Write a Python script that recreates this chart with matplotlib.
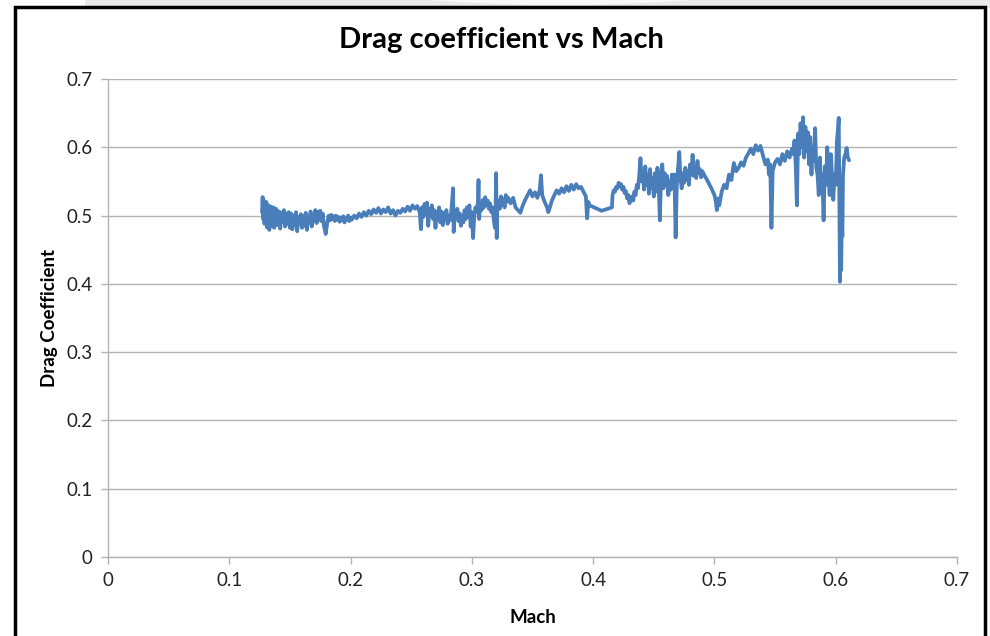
import matplotlib
matplotlib.use("Agg")
import matplotlib.pyplot as plt
from matplotlib.patches import Rectangle, Ellipse

plt.rcParams['font.family'] = ['Lato', 'DejaVu Sans']

# ---- data ----
mach_a = [0.127, 0.1275, 0.128, 0.1285, 0.129, 0.1295, 0.130, 0.1305, 0.131, 0.1315,
          0.132, 0.1325, 0.133, 0.1335, 0.134, 0.1345, 0.135, 0.1355, 0.136, 0.1365,
          0.137, 0.1375, 0.138, 0.1385, 0.139, 0.1395, 0.140, 0.141, 0.142, 0.143,
          0.144, 0.145, 0.146, 0.147, 0.148, 0.149, 0.150]
cd_a = [0.505, 0.527, 0.495, 0.522, 0.488, 0.518, 0.500, 0.520, 0.483, 0.512,
        0.492, 0.515, 0.479, 0.510, 0.495, 0.513, 0.485, 0.508, 0.490, 0.512,
        0.482, 0.505, 0.494, 0.510, 0.486, 0.507, 0.489, 0.506, 0.481, 0.504,
        0.491, 0.508, 0.484, 0.503, 0.488, 0.505, 0.482]

mach_b = [0.151, 0.152, 0.153, 0.154, 0.155, 0.156, 0.157, 0.158, 0.159, 0.160,
          0.161, 0.162, 0.163, 0.164, 0.165, 0.166, 0.167, 0.168, 0.169, 0.170,
          0.171, 0.172, 0.173, 0.174, 0.175, 0.176, 0.177]
cd_b = [0.503, 0.480, 0.500, 0.486, 0.505, 0.477, 0.498, 0.488, 0.502, 0.482,
        0.499, 0.485, 0.504, 0.479, 0.497, 0.490, 0.506, 0.484, 0.500, 0.492,
        0.508, 0.489, 0.505, 0.494, 0.507, 0.492, 0.503]

mach_c = [0.178, 0.1795, 0.181, 0.182, 0.183, 0.184, 0.185, 0.186, 0.187, 0.188,
          0.189, 0.190, 0.191, 0.192, 0.193, 0.194, 0.195, 0.196, 0.197, 0.198,
          0.199, 0.200]
cd_c = [0.485, 0.473, 0.492, 0.500, 0.493, 0.501, 0.495, 0.499, 0.492, 0.500,
        0.494, 0.498, 0.491, 0.497, 0.493, 0.499, 0.490, 0.496, 0.494, 0.500,
        0.492, 0.497]

mach_d = [0.201, 0.203, 0.205, 0.207, 0.209, 0.211, 0.213, 0.215, 0.217, 0.219,
          0.221, 0.223, 0.225, 0.227, 0.229, 0.231, 0.233, 0.235, 0.237, 0.239,
          0.241, 0.243, 0.245, 0.247, 0.249, 0.251, 0.253, 0.255, 0.257]
cd_d = [0.494, 0.500, 0.496, 0.503, 0.498, 0.505, 0.500, 0.507, 0.502, 0.509,
        0.504, 0.511, 0.503, 0.509, 0.505, 0.512, 0.503, 0.508, 0.500, 0.507,
        0.504, 0.510, 0.506, 0.513, 0.507, 0.515, 0.510, 0.514, 0.505]

mach_e = [0.258, 0.259, 0.260, 0.261, 0.262, 0.263, 0.264, 0.265, 0.266, 0.267,
          0.268, 0.269, 0.270, 0.271, 0.272, 0.273, 0.274, 0.275, 0.276, 0.277,
          0.278, 0.279, 0.280, 0.281, 0.282, 0.283]
cd_e = [0.480, 0.512, 0.498, 0.517, 0.503, 0.519, 0.485, 0.510, 0.500, 0.515,
        0.495, 0.508, 0.482, 0.505, 0.497, 0.512, 0.490, 0.506, 0.486, 0.503,
        0.494, 0.508, 0.488, 0.500, 0.493, 0.505]

mach_f = [0.2845, 0.285, 0.286, 0.287, 0.288, 0.289, 0.290, 0.291, 0.292, 0.293,
          0.294, 0.295, 0.296, 0.297, 0.298, 0.299, 0.300, 0.301, 0.302, 0.303,
          0.304, 0.305, 0.3055, 0.306, 0.307, 0.308, 0.309, 0.310, 0.311, 0.312,
          0.313, 0.314, 0.315, 0.316, 0.317, 0.318, 0.319, 0.3195, 0.320, 0.3205,
          0.321, 0.322, 0.323, 0.324, 0.325, 0.326, 0.327, 0.328, 0.329, 0.330]
cd_f = [0.540, 0.476, 0.505, 0.496, 0.510, 0.492, 0.503, 0.485, 0.500, 0.490,
        0.508, 0.495, 0.512, 0.498, 0.515, 0.484, 0.505, 0.467, 0.500, 0.512,
        0.505, 0.520, 0.552, 0.495, 0.518, 0.508, 0.523, 0.512, 0.527, 0.515,
        0.522, 0.510, 0.518, 0.505, 0.512, 0.495, 0.482, 0.500, 0.562, 0.467,
        0.515, 0.522, 0.510, 0.528, 0.516, 0.524, 0.512, 0.530, 0.520, 0.526]

mach_g = [0.332, 0.334, 0.336, 0.338, 0.340, 0.342, 0.344, 0.346, 0.348, 0.350,
          0.352, 0.354, 0.356, 0.357, 0.358, 0.360, 0.362, 0.363, 0.364, 0.366,
          0.368, 0.370, 0.372, 0.374, 0.376, 0.378, 0.380, 0.382, 0.384, 0.386,
          0.388, 0.390, 0.392, 0.394, 0.395, 0.396]
cd_g = [0.518, 0.526, 0.512, 0.508, 0.504, 0.515, 0.523, 0.530, 0.537, 0.528,
        0.534, 0.526, 0.538, 0.559, 0.530, 0.520, 0.512, 0.505, 0.510, 0.522,
        0.530, 0.537, 0.532, 0.540, 0.534, 0.543, 0.536, 0.545, 0.538, 0.546,
        0.540, 0.542, 0.535, 0.528, 0.496, 0.520]

mach_h = [0.397, 0.402, 0.407, 0.412, 0.4155]
cd_h = [0.515, 0.511, 0.507, 0.510, 0.512]

mach_i = [0.416, 0.417, 0.418, 0.419, 0.420, 0.421, 0.422, 0.423, 0.424, 0.425,
          0.426, 0.427, 0.428, 0.429, 0.430, 0.431, 0.432, 0.433, 0.434, 0.435,
          0.436, 0.437, 0.438, 0.439, 0.440, 0.441, 0.442, 0.443, 0.444, 0.445,
          0.446, 0.447, 0.448, 0.449, 0.450, 0.451, 0.452, 0.453, 0.454, 0.455,
          0.456, 0.457, 0.458, 0.459, 0.460, 0.461, 0.462, 0.463, 0.464, 0.465]
cd_i = [0.530, 0.537, 0.535, 0.542, 0.540, 0.548, 0.543, 0.546, 0.538, 0.542,
        0.533, 0.536, 0.525, 0.530, 0.518, 0.525, 0.528, 0.522, 0.535, 0.530,
        0.545, 0.540, 0.558, 0.584, 0.550, 0.565, 0.538, 0.572, 0.545, 0.560,
        0.532, 0.568, 0.540, 0.555, 0.528, 0.562, 0.535, 0.570, 0.548, 0.493,
        0.555, 0.575, 0.540, 0.562, 0.545, 0.558, 0.530, 0.550, 0.538, 0.560]

mach_j = [0.466, 0.467, 0.468, 0.469, 0.470, 0.471, 0.472, 0.473, 0.474, 0.475,
          0.476, 0.477, 0.478, 0.479, 0.480, 0.481, 0.482, 0.483, 0.484, 0.485,
          0.486, 0.487, 0.488, 0.489, 0.490, 0.492, 0.494, 0.496, 0.498, 0.500,
          0.501, 0.502, 0.503]
cd_j = [0.545, 0.560, 0.468, 0.545, 0.570, 0.593, 0.555, 0.540, 0.562, 0.548,
        0.570, 0.552, 0.565, 0.545, 0.575, 0.560, 0.589, 0.558, 0.572, 0.555,
        0.580, 0.562, 0.568, 0.556, 0.565, 0.558, 0.552, 0.545, 0.538, 0.530,
        0.522, 0.508, 0.525]

mach_k = [0.504, 0.506, 0.508, 0.510, 0.512, 0.514, 0.516, 0.518, 0.520, 0.522,
          0.524, 0.526, 0.528, 0.530, 0.532, 0.534, 0.536, 0.538, 0.540, 0.542,
          0.544, 0.545, 0.546, 0.547, 0.548, 0.550, 0.552, 0.554, 0.556, 0.558,
          0.560, 0.562, 0.564, 0.565]
cd_k = [0.515, 0.535, 0.545, 0.540, 0.560, 0.552, 0.577, 0.565, 0.570, 0.578,
        0.573, 0.585, 0.591, 0.598, 0.590, 0.603, 0.595, 0.602, 0.588, 0.575,
        0.582, 0.560, 0.575, 0.482, 0.565, 0.578, 0.583, 0.575, 0.590, 0.580,
        0.594, 0.585, 0.598, 0.590]

mach_l = [0.566, 0.567, 0.568, 0.569, 0.570, 0.571, 0.572, 0.573, 0.574, 0.575,
          0.576, 0.577, 0.578, 0.579, 0.580, 0.581, 0.582, 0.583, 0.584, 0.585,
          0.586, 0.587, 0.588, 0.589, 0.590, 0.591, 0.592, 0.593, 0.594, 0.595,
          0.596, 0.597, 0.598, 0.599, 0.600, 0.601, 0.602, 0.6025, 0.603, 0.6035,
          0.604, 0.6045, 0.605, 0.6055, 0.606, 0.607, 0.608, 0.609, 0.610, 0.611]
cd_l = [0.610, 0.575, 0.515, 0.620, 0.590, 0.635, 0.600, 0.644, 0.585, 0.630,
        0.595, 0.622, 0.575, 0.615, 0.560, 0.600, 0.580, 0.628, 0.570, 0.560,
        0.530, 0.585, 0.533, 0.560, 0.493, 0.572, 0.545, 0.600, 0.565, 0.530,
        0.590, 0.555, 0.523, 0.560, 0.545, 0.610, 0.630, 0.643, 0.520, 0.403,
        0.454, 0.420, 0.493, 0.470, 0.560, 0.585, 0.590, 0.599, 0.585, 0.581]

x_ticks = [0, 0.1, 0.2, 0.3, 0.4, 0.5, 0.6, 0.7]
y_ticks = [0, 0.1, 0.2, 0.3, 0.4, 0.5, 0.6, 0.7]
x_tick_labels = ["0", "0.1", "0.2", "0.3", "0.4", "0.5", "0.6", "0.7"]
y_tick_labels = ["0", "0.1", "0.2", "0.3", "0.4", "0.5", "0.6", "0.7"]

mach = (mach_a + mach_b + mach_c + mach_d + mach_e + mach_f + mach_g + mach_h
        + mach_i + mach_j + mach_k + mach_l)
cd = (cd_a + cd_b + cd_c + cd_d + cd_e + cd_f + cd_g + cd_h
      + cd_i + cd_j + cd_k + cd_l)
assert len(mach) == len(cd)

# ---- figure ----
W, H = 990, 636
fig = plt.figure(figsize=(9.9, 6.36), dpi=100)
fig.patch.set_facecolor("white")

def px(x, y):
    return x / W, 1 - y / H

# faint gray strip at the very top (page background)
fig.patches.append(Rectangle((0, 1 - 8 / H), 1, 8 / H, transform=fig.transFigure,
                             facecolor="#e9e9e9", edgecolor="none", zorder=0))
fig.patches.append(Ellipse(px(560, -40), 560 / W, 90 / H, transform=fig.transFigure,
                           facecolor="#f8f8f8", edgecolor="none", zorder=0))
fig.patches.append(Rectangle((0, 1 - 8 / H), 85 / W, 8 / H, transform=fig.transFigure,
                             facecolor="white", edgecolor="none", zorder=0))
# black chart border
x0, y0 = px(15, 640)
x1, y1 = px(985, 7)
fig.patches.append(Rectangle((x0, y0), x1 - x0, y1 - y0, transform=fig.transFigure,
                             facecolor="white", edgecolor="black", linewidth=2.5, zorder=1))

ax_l, ax_t = px(108, 79)
ax_r, ax_b = px(957, 557)
ax = fig.add_axes([ax_l, ax_b, ax_r - ax_l, ax_t - ax_b])
ax.set_facecolor("none")
ax.set_zorder(2)

ax.plot(mach, cd, color="#4A7EBB", linewidth=2.7, solid_joinstyle="round",
        solid_capstyle="round")

ax.set_xlim(0, 0.7)
ax.set_ylim(0, 0.7)
ax.set_xticks(x_ticks)
ax.set_xticklabels(x_tick_labels)
ax.set_yticks(y_ticks)
ax.set_yticklabels(y_tick_labels)

ax.grid(axis="y", color="#b3b3b3", linewidth=1.0)
ax.set_axisbelow(True)
for s in ["top", "right"]:
    ax.spines[s].set_visible(False)
for s in ["left", "bottom"]:
    ax.spines[s].set_color("#b3b3b3")
    ax.spines[s].set_linewidth(1.0)
ax.tick_params(axis="both", direction="out", length=5, width=1.0, color="#b3b3b3",
               labelsize=13.5, labelcolor="#222222", pad=6)

ax.set_xlabel("Mach", fontsize=13.5, fontweight="bold", labelpad=14)
ax.set_ylabel("Drag Coefficient", fontsize=13.5, fontweight="bold", labelpad=6)
fig.text(501 / W, px(0, 40)[1], "Drag coefficient vs Mach",
         fontsize=21, fontweight="bold", ha="center", va="center")

fig.savefig("out.png", dpi=100)
